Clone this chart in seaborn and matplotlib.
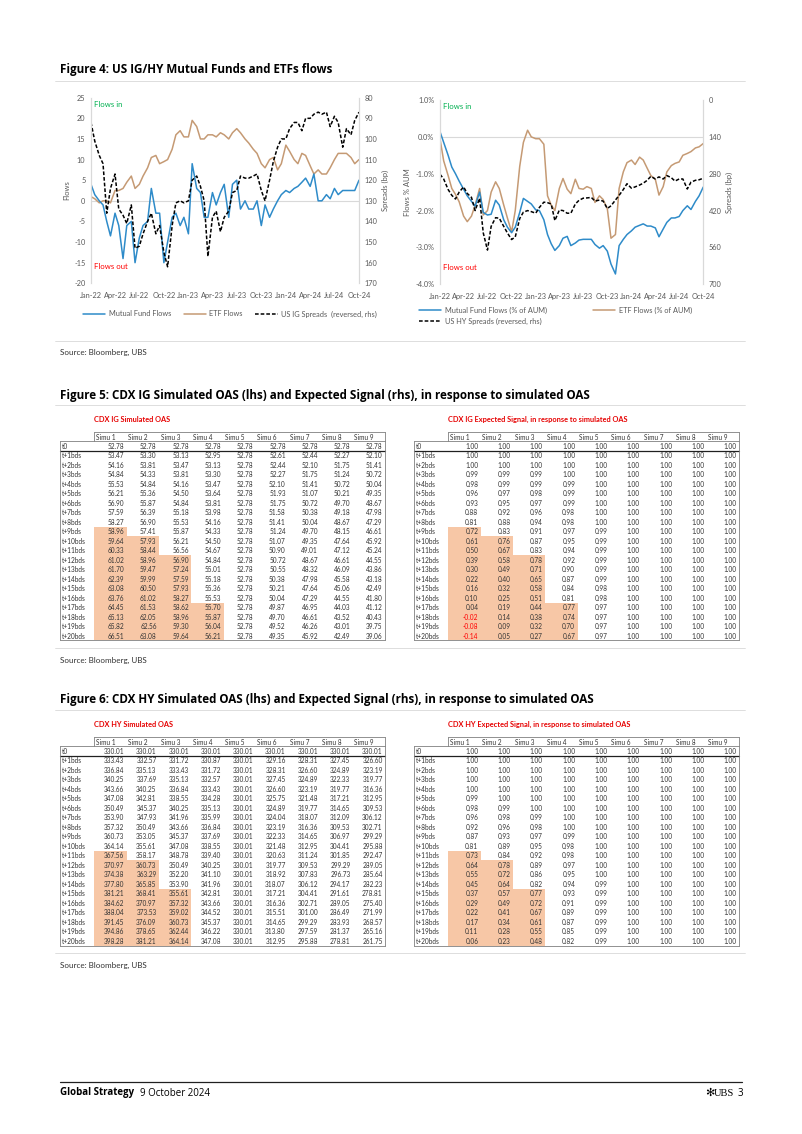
import pandas as pd
import matplotlib
matplotlib.use('Agg')
import matplotlib.pyplot as plt
import matplotlib.dates as mdates
from matplotlib.colors import ListedColormap
from matplotlib.lines import Line2D
import seaborn as sns

# ---------------- data ----------------
dates = pd.date_range('2022-01-01', '2024-10-01', freq='SMS')

# Figure 4 left: US IG flows
ig_mf_flows = [4, 1.5, 0, -1, -5, -8.5, -3, -6, -14, -6,
               -5, -15, -9, -6, -5, 3, -3, -3, -15, -10,
               -4, -3, -6, -4, -8, 9, 3, 2, -4, -4,
               2, -1, 2, 4, -4, 4, 5, -2, 0, -2,
               -2, 0, -6, -1, -4, -2, 0, 1.5, 2.5, 2,
               3, 3.5, 4.5, 5.5, 3.5, 6.5, 0, 0, 1.5, 0.5,
               3, 1.5, 2.5, 2.5, 2.5, 2.5, 5]
ig_etf_flows = [1, 0.5, -0.5, 0, 0, -0.5, 2.5, 2.5, 3, 4.5,
                6, 3, 4, 6, 8, 10.5, 11, 9, 9.5, 10,
                12.5, 16, 17, 15.5, 15.5, 19.5, 18, 15, 15, 16,
                16, 15.5, 16.5, 16, 15, 16.5, 17.5, 16.5, 15, 14,
                12.5, 11.5, 9, 8, 10, 10.5, 7.5, 9, 13.5, 12,
                10, 9, 11.5, 11, 8.5, 6.5, 7.5, 6.5, 6.5, 8,
                10, 11.5, 11.5, 11.5, 10.5, 9, 10]
ig_spreads = [92, 101, 108, 112, 136, 124, 117, 134, 137, 141,
              132, 153, 152, 146, 140, 136, 146, 142, 155, 162,
              142, 131, 130, 131, 130, 120, 118, 123, 130, 157,
              138, 135, 145, 138, 135, 126, 125, 118, 119, 119,
              118, 117, 125, 130, 120, 111, 104, 100, 100, 95,
              92, 92, 96, 90, 90, 88, 87, 88, 87, 94,
              89, 92, 104, 95, 98, 91, 87]

# Figure 4 right: US HY flows (% of AUM)
hy_mf_flows = [0.14, -0.15, -0.5, -0.82, -1.0, -1.2, -1.42, -1.6, -1.75, -1.88,
               -1.5, -2.05, -2.12, -2.1, -1.72, -1.85, -2.25, -2.45, -2.6, -2.45,
               -2.05, -1.67, -1.75, -1.82, -1.98, -2.0, -2.25, -2.65, -2.9, -3.08,
               -2.95, -2.75, -2.7, -2.95, -2.88, -2.8, -2.78, -2.78, -2.78, -2.92,
               -3.02, -2.95, -3.1, -3.45, -3.72, -2.95, -2.78, -2.65, -2.55, -2.45,
               -2.4, -2.36, -2.42, -2.42, -2.47, -2.71, -2.5, -2.32, -2.2, -2.2,
               -2.16, -2.0, -1.87, -1.97, -1.75, -1.6, -1.36]
hy_etf_flows = [-0.05, -0.65, -1.05, -1.4, -1.56, -1.76, -2.15, -2.3, -2.15, -1.85,
                -1.4, -2.12, -2.0, -1.5, -1.22, -1.4, -1.85, -2.2, -2.58, -2.0,
                -0.8, -0.15, 0.18, 0.0, -0.05, -0.05, -0.2, -1.6, -1.85, -2.0,
                -1.4, -1.13, -1.42, -1.54, -1.15, -1.4, -1.42, -1.35, -1.4, -1.78,
                -1.6, -1.7, -1.95, -2.75, -2.65, -1.4, -0.95, -0.7, -0.63, -0.75,
                -0.55, -0.63, -0.85, -1.05, -1.15, -1.58, -1.35, -0.95, -0.78, -0.72,
                -0.68, -0.5, -0.45, -0.4, -0.3, -0.27, -0.18]
hy_spreads = [282, 300, 340, 362, 376, 350, 330, 355, 370, 420,
              373, 505, 570, 480, 447, 449, 480, 505, 530, 520,
              450, 426, 420, 424, 430, 408, 388, 390, 395, 458,
              418, 420, 430, 430, 395, 381, 373, 372, 370, 384,
              380, 384, 412, 402, 380, 362, 340, 318, 335, 330,
              323, 316, 305, 290, 300, 292, 300, 287, 295, 308,
              300, 300, 338, 312, 305, 303, 297]

ig_left_ticks = [-20, -15, -10, -5, 0, 5, 10, 15, 20, 25]
ig_right_ticks = [80, 90, 100, 110, 120, 130, 140, 150, 160, 170]
hy_left_ticks = [-4.0, -3.0, -2.0, -1.0, 0.0, 1.0]
hy_left_labels = ['-4.0%', '-3.0%', '-2.0%', '-1.0%', '0.0%', '1.0%']
hy_right_ticks = [0, 140, 280, 420, 560, 700]

row_labels = ['t0'] + ['t+%dbds' % i for i in range(1, 21)]
simu_labels = ['Simu %d' % i for i in range(1, 10)]

ig_oas = [
    [52.78, 52.78, 52.78, 52.78, 52.78, 52.78, 52.78, 52.78, 52.78],
    [53.47, 53.30, 53.13, 52.95, 52.78, 52.61, 52.44, 52.27, 52.10],
    [54.16, 53.81, 53.47, 53.13, 52.78, 52.44, 52.10, 51.75, 51.41],
    [54.84, 54.33, 53.81, 53.30, 52.78, 52.27, 51.75, 51.24, 50.72],
    [55.53, 54.84, 54.16, 53.47, 52.78, 52.10, 51.41, 50.72, 50.04],
    [56.21, 55.36, 54.50, 53.64, 52.78, 51.93, 51.07, 50.21, 49.35],
    [56.90, 55.87, 54.84, 53.81, 52.78, 51.75, 50.72, 49.70, 48.67],
    [57.59, 56.39, 55.18, 53.98, 52.78, 51.58, 50.38, 49.18, 47.98],
    [58.27, 56.90, 55.53, 54.16, 52.78, 51.41, 50.04, 48.67, 47.29],
    [58.96, 57.41, 55.87, 54.33, 52.78, 51.24, 49.70, 48.15, 46.61],
    [59.64, 57.93, 56.21, 54.50, 52.78, 51.07, 49.35, 47.64, 45.92],
    [60.33, 58.44, 56.56, 54.67, 52.78, 50.90, 49.01, 47.12, 45.24],
    [61.02, 58.96, 56.90, 54.84, 52.78, 50.72, 48.67, 46.61, 44.55],
    [61.70, 59.47, 57.24, 55.01, 52.78, 50.55, 48.32, 46.09, 43.86],
    [62.39, 59.99, 57.59, 55.18, 52.78, 50.38, 47.98, 45.58, 43.18],
    [63.08, 60.50, 57.93, 55.36, 52.78, 50.21, 47.64, 45.06, 42.49],
    [63.76, 61.02, 58.27, 55.53, 52.78, 50.04, 47.29, 44.55, 41.80],
    [64.45, 61.53, 58.62, 55.70, 52.78, 49.87, 46.95, 44.03, 41.12],
    [65.13, 62.05, 58.96, 55.87, 52.78, 49.70, 46.61, 43.52, 40.43],
    [65.82, 62.56, 59.30, 56.04, 52.78, 49.52, 46.26, 43.01, 39.75],
    [66.51, 63.08, 59.64, 56.21, 52.78, 49.35, 45.92, 42.49, 39.06],
]
ig_signal = [
    [1.00, 1.00, 1.00, 1.00, 1.00, 1.00, 1.00, 1.00, 1.00],
    [1.00, 1.00, 1.00, 1.00, 1.00, 1.00, 1.00, 1.00, 1.00],
    [1.00, 1.00, 1.00, 1.00, 1.00, 1.00, 1.00, 1.00, 1.00],
    [0.99, 0.99, 0.99, 1.00, 1.00, 1.00, 1.00, 1.00, 1.00],
    [0.98, 0.99, 0.99, 0.99, 1.00, 1.00, 1.00, 1.00, 1.00],
    [0.96, 0.97, 0.98, 0.99, 1.00, 1.00, 1.00, 1.00, 1.00],
    [0.93, 0.95, 0.97, 0.99, 1.00, 1.00, 1.00, 1.00, 1.00],
    [0.88, 0.92, 0.96, 0.98, 1.00, 1.00, 1.00, 1.00, 1.00],
    [0.81, 0.88, 0.94, 0.98, 1.00, 1.00, 1.00, 1.00, 1.00],
    [0.72, 0.83, 0.91, 0.97, 0.99, 1.00, 1.00, 1.00, 1.00],
    [0.61, 0.76, 0.87, 0.95, 0.99, 1.00, 1.00, 1.00, 1.00],
    [0.50, 0.67, 0.83, 0.94, 0.99, 1.00, 1.00, 1.00, 1.00],
    [0.39, 0.58, 0.78, 0.92, 0.99, 1.00, 1.00, 1.00, 1.00],
    [0.30, 0.49, 0.71, 0.90, 0.99, 1.00, 1.00, 1.00, 1.00],
    [0.22, 0.40, 0.65, 0.87, 0.99, 1.00, 1.00, 1.00, 1.00],
    [0.16, 0.32, 0.58, 0.84, 0.98, 1.00, 1.00, 1.00, 1.00],
    [0.10, 0.25, 0.51, 0.81, 0.98, 1.00, 1.00, 1.00, 1.00],
    [0.04, 0.19, 0.44, 0.77, 0.97, 1.00, 1.00, 1.00, 1.00],
    [-0.02, 0.14, 0.38, 0.74, 0.97, 1.00, 1.00, 1.00, 1.00],
    [-0.08, 0.09, 0.32, 0.70, 0.97, 1.00, 1.00, 1.00, 1.00],
    [-0.14, 0.05, 0.27, 0.67, 0.97, 1.00, 1.00, 1.00, 1.00],
]
hy_oas = [
    [330.01, 330.01, 330.01, 330.01, 330.01, 330.01, 330.01, 330.01, 330.01],
    [333.43, 332.57, 331.72, 330.87, 330.01, 329.16, 328.31, 327.45, 326.60],
    [336.84, 335.13, 333.43, 331.72, 330.01, 328.31, 326.60, 324.89, 323.19],
    [340.25, 337.69, 335.13, 332.57, 330.01, 327.45, 324.89, 322.33, 319.77],
    [343.66, 340.25, 336.84, 333.43, 330.01, 326.60, 323.19, 319.77, 316.36],
    [347.08, 342.81, 338.55, 334.28, 330.01, 325.75, 321.48, 317.21, 312.95],
    [350.49, 345.37, 340.25, 335.13, 330.01, 324.89, 319.77, 314.65, 309.53],
    [353.90, 347.93, 341.96, 335.99, 330.01, 324.04, 318.07, 312.09, 306.12],
    [357.32, 350.49, 343.66, 336.84, 330.01, 323.19, 316.36, 309.53, 302.71],
    [360.73, 353.05, 345.37, 337.69, 330.01, 322.33, 314.65, 306.97, 299.29],
    [364.14, 355.61, 347.08, 338.55, 330.01, 321.48, 312.95, 304.41, 295.88],
    [367.56, 358.17, 348.78, 339.40, 330.01, 320.63, 311.24, 301.85, 292.47],
    [370.97, 360.73, 350.49, 340.25, 330.01, 319.77, 309.53, 299.29, 289.05],
    [374.38, 363.29, 352.20, 341.10, 330.01, 318.92, 307.83, 296.73, 285.64],
    [377.80, 365.85, 353.90, 341.96, 330.01, 318.07, 306.12, 294.17, 282.23],
    [381.21, 368.41, 355.61, 342.81, 330.01, 317.21, 304.41, 291.61, 278.81],
    [384.62, 370.97, 357.32, 343.66, 330.01, 316.36, 302.71, 289.05, 275.40],
    [388.04, 373.53, 359.02, 344.52, 330.01, 315.51, 301.00, 286.49, 271.99],
    [391.45, 376.09, 360.73, 345.37, 330.01, 314.65, 299.29, 283.93, 268.57],
    [394.86, 378.65, 362.44, 346.22, 330.01, 313.80, 297.59, 281.37, 265.16],
    [398.28, 381.21, 364.14, 347.08, 330.01, 312.95, 295.88, 278.81, 261.75],
]
hy_signal = [
    [1.00, 1.00, 1.00, 1.00, 1.00, 1.00, 1.00, 1.00, 1.00],
    [1.00, 1.00, 1.00, 1.00, 1.00, 1.00, 1.00, 1.00, 1.00],
    [1.00, 1.00, 1.00, 1.00, 1.00, 1.00, 1.00, 1.00, 1.00],
    [1.00, 1.00, 1.00, 1.00, 1.00, 1.00, 1.00, 1.00, 1.00],
    [1.00, 1.00, 1.00, 1.00, 1.00, 1.00, 1.00, 1.00, 1.00],
    [0.99, 1.00, 1.00, 1.00, 1.00, 1.00, 1.00, 1.00, 1.00],
    [0.98, 0.99, 1.00, 1.00, 1.00, 1.00, 1.00, 1.00, 1.00],
    [0.96, 0.98, 0.99, 1.00, 1.00, 1.00, 1.00, 1.00, 1.00],
    [0.92, 0.96, 0.98, 1.00, 1.00, 1.00, 1.00, 1.00, 1.00],
    [0.87, 0.93, 0.97, 0.99, 1.00, 1.00, 1.00, 1.00, 1.00],
    [0.81, 0.89, 0.95, 0.98, 1.00, 1.00, 1.00, 1.00, 1.00],
    [0.73, 0.84, 0.92, 0.98, 1.00, 1.00, 1.00, 1.00, 1.00],
    [0.64, 0.78, 0.89, 0.97, 1.00, 1.00, 1.00, 1.00, 1.00],
    [0.55, 0.72, 0.86, 0.95, 1.00, 1.00, 1.00, 1.00, 1.00],
    [0.45, 0.64, 0.82, 0.94, 0.99, 1.00, 1.00, 1.00, 1.00],
    [0.37, 0.57, 0.77, 0.93, 0.99, 1.00, 1.00, 1.00, 1.00],
    [0.29, 0.49, 0.72, 0.91, 0.99, 1.00, 1.00, 1.00, 1.00],
    [0.22, 0.41, 0.67, 0.89, 0.99, 1.00, 1.00, 1.00, 1.00],
    [0.17, 0.34, 0.61, 0.87, 0.99, 1.00, 1.00, 1.00, 1.00],
    [0.11, 0.28, 0.55, 0.85, 0.99, 1.00, 1.00, 1.00, 1.00],
    [0.06, 0.23, 0.48, 0.82, 0.99, 1.00, 1.00, 1.00, 1.00],
]

# ---------------- style ----------------
W, H = 802, 1134
BLUE = '#2E8BC9'
TAN = '#C59A74'
GREY_TXT = '#595959'
AXIS_GREY = '#D9D9D9'
ORANGE = '#F7C7A6'
UBS_RED = '#E60000'
TXT = '#333333'

sns.set_theme(style='white')
plt.rcParams['font.family'] = ['Lato', 'DejaVu Sans']
plt.rcParams['axes.unicode_minus'] = False

fig = plt.figure(figsize=(W / 100, H / 100), dpi=100)
fig.patch.set_facecolor('white')


def px_rect(x0, y0, x1, y1):
    return [x0 / W, 1 - y1 / H, (x1 - x0) / W, (y1 - y0) / H]


def ftext(x, y, s, **kw):
    kw.setdefault('va', 'center')
    return fig.text(x / W, 1 - y / H, s, **kw)


def hline(y, x0=55, x1=745, color='#D0D0D0', lw=0.5):
    fig.add_artist(Line2D([x0 / W, x1 / W], [1 - y / H, 1 - y / H], color=color, lw=lw))


def flow_chart(rect, mf, etf, spr, lticks, llabels, rticks, ylabel):
    ax = fig.add_axes(px_rect(*rect))
    df = pd.DataFrame({'date': dates, 'mf': mf, 'etf': etf, 'spr': spr})
    ax.axhline(0, color=AXIS_GREY, lw=0.8, zorder=0)
    sns.lineplot(data=df, x='date', y='etf', color=TAN, lw=1.1, ax=ax)
    sns.lineplot(data=df, x='date', y='mf', color=BLUE, lw=1.1, ax=ax)
    ax.set_ylim(lticks[0], lticks[-1])
    ax.set_yticks(lticks)
    ax.set_yticklabels(llabels)
    ax.set_xlim(dates[0], dates[-1])
    ax.xaxis.set_major_locator(mdates.MonthLocator(bymonth=[1, 4, 7, 10]))
    ax.xaxis.set_major_formatter(mdates.DateFormatter('%b-%y'))
    ax.set_xlabel('')
    ax.set_ylabel(ylabel, fontsize=5.5, color=GREY_TXT, labelpad=3)

    ax2 = ax.twinx()
    sns.lineplot(data=df, x='date', y='spr', color='black', lw=1.1,
                 linestyle=(0, (2.4, 1.3)), ax=ax2)
    ax2.set_ylim(rticks[-1], rticks[0])
    ax2.set_yticks(rticks)
    ax2.set_ylabel('Spreads (bp)', fontsize=5.5, color=GREY_TXT, rotation=90, labelpad=3)
    ax2.set_xlabel('')
    for a in (ax, ax2):
        a.spines['top'].set_visible(False)
        a.spines['bottom'].set_visible(False)
        a.spines['left'].set_color(AXIS_GREY)
        a.spines['right'].set_color(AXIS_GREY)
        a.spines['left'].set_linewidth(0.8)
        a.spines['right'].set_linewidth(0.8)
        a.tick_params(length=0, labelsize=5.3, colors=GREY_TXT, pad=4)
    ax.tick_params(axis='x', pad=6)
    ax.text(0.012, 0.965, 'Flows in', transform=ax.transAxes, color='#00B050',
            fontsize=5.6, ha='left', va='center')
    ax.text(0.012, 0.09, 'Flows out', transform=ax.transAxes, color='#FF0000',
            fontsize=5.6, ha='left', va='center')
    return ax


def sim_table(x0, y0, values, signal, title):
    lab_w, col_w, row_h = 34.3, 32.3, 9.5
    ax = fig.add_axes(px_rect(x0 + lab_w, y0, x0 + lab_w + 9 * col_w, y0 + 21 * row_h))
    mask = pd.DataFrame(signal, index=row_labels, columns=simu_labels) < 0.8
    sns.heatmap(mask.astype(float), cmap=ListedColormap(['white', ORANGE]),
                vmin=0, vmax=1, cbar=False, xticklabels=False, yticklabels=False, ax=ax)
    lu = lab_w / col_w
    for i, lab in enumerate(row_labels):
        ax.text(-lu + 0.06, i + 0.55, lab, ha='left', va='center', fontsize=4.7, color=TXT)
        for j in range(9):
            v = values[i][j]
            ax.text(j + 0.93, i + 0.55, '%.2f' % v, ha='right', va='center', fontsize=4.7,
                    color='#FF0000' if v < 0 else TXT)
    for j, lab in enumerate(simu_labels):
        ax.text(j + 0.05, -0.42, lab, ha='left', va='center', fontsize=4.7, color=TXT)
    ax.text(0, -2.3, title, ha='left', va='center', fontsize=5.3, color=UBS_RED,
            weight='bold')
    kw = dict(color='#7F7F7F', lw=0.6, clip_on=False)
    ax.plot([0, 9], [-0.92, -0.92], **kw)
    ax.plot([0, 0], [-0.92, 0], **kw)
    ax.plot([-lu, 9], [0, 0], **kw)
    ax.plot([-lu, 9], [1, 1], color='#202020', lw=0.9, clip_on=False)
    ax.plot([-lu, -lu], [0, 21], **kw)
    ax.plot([9, 9], [-0.92, 21], **kw)
    ax.plot([-lu, 9], [21, 21], **kw)


# ---------------- Figure 4 ----------------
title_kw = dict(fontsize=8.35, weight='bold', color='black', family=['Open Sans', 'DejaVu Sans'])
ftext(60, 70, 'Figure 4: US IG/HY Mutual Funds and ETFs flows', **title_kw)
hline(81)

flow_chart((91, 97.7, 359, 283.3), ig_mf_flows, ig_etf_flows, ig_spreads,
           ig_left_ticks, [str(t) for t in ig_left_ticks], ig_right_ticks, 'Flows')
flow_chart((440, 100, 703.3, 284.3), hy_mf_flows, hy_etf_flows, hy_spreads,
           hy_left_ticks, hy_left_labels, hy_right_ticks, 'Flows % AUM')

h_mf = Line2D([], [], color=BLUE, lw=1.1)
h_etf = Line2D([], [], color=TAN, lw=1.1)
h_spr = Line2D([], [], color='black', lw=1.1, linestyle=(0, (2.4, 1.3)))
leg_kw = dict(frameon=False, fontsize=5.3, handlelength=3.0, handletextpad=0.5,
              labelcolor=GREY_TXT, borderpad=0, borderaxespad=0)
fig.legend([h_mf, h_etf, h_spr],
           ['Mutual Fund Flows', 'ETF Flows', 'US IG Spreads  (reversed, rhs)'],
           loc='center left', bbox_to_anchor=(83 / W, 1 - 314 / H), ncol=3,
           columnspacing=1.7, **leg_kw)
fig.legend([h_mf, h_spr, h_etf],
           ['Mutual Fund Flows (% of AUM)', 'US HY Spreads (reversed, rhs)', 'ETF Flows (% of AUM)'],
           loc='upper left', bbox_to_anchor=(419 / W, 1 - 306.5 / H), ncol=2,
           columnspacing=6.3, labelspacing=0.55, **leg_kw)

hline(341)
ftext(60, 352, 'Source: Bloomberg, UBS', fontsize=5.8, color=TXT)

# ---------------- Figure 5 ----------------
ftext(60, 395, 'Figure 5: CDX IG Simulated OAS (lhs) and Expected Signal (rhs), in response to simulated OAS',
      **title_kw)
hline(405)
sim_table(60, 441, ig_oas, ig_signal, 'CDX IG Simulated OAS')
sim_table(414, 441, ig_signal, ig_signal, 'CDX IG Expected Signal, in response to simulated OAS')
hline(648)
ftext(60, 660, 'Source: Bloomberg, UBS', fontsize=5.8, color=TXT)

# ---------------- Figure 6 ----------------
ftext(60, 700, 'Figure 6: CDX HY Simulated OAS (lhs) and Expected Signal (rhs), in response to simulated OAS',
      **title_kw)
hline(710)
sim_table(60, 746, hy_oas, hy_signal, 'CDX HY Simulated OAS')
sim_table(414, 746, hy_signal, hy_signal, 'CDX HY Expected Signal, in response to simulated OAS')
hline(953)
ftext(60, 965, 'Source: Bloomberg, UBS', fontsize=5.8, color=TXT)

# ---------------- footer ----------------
hline(1082, x0=60, x1=742, color='#202020', lw=0.9)
foot_kw = dict(fontsize=7, color='black', family=['Open Sans', 'DejaVu Sans'])
t_gs = ftext(60, 1093, 'Global Strategy', weight='bold', **foot_kw)
bb = t_gs.get_window_extent(renderer=fig.canvas.get_renderer())
ftext(bb.x1 + 6, 1093, '9 October 2024', **foot_kw)
ftext(705, 1093, '\u273b', fontsize=8, color='black', family=['DejaVu Sans'])
ftext(734, 1093, 'UBS', fontsize=7.5, color='black', ha='right',
      family=['Liberation Serif', 'DejaVu Serif'])
ftext(743, 1093, '3', ha='right', **foot_kw)

fig.savefig('out.png', dpi=100)
